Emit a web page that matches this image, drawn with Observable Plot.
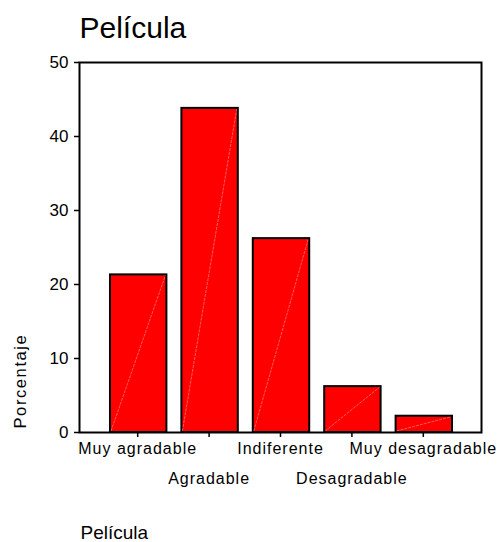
<!DOCTYPE html>
<html><head><meta charset="utf-8">
<script src="https://cdn.jsdelivr.net/npm/d3@7"></script>
<script src="https://cdn.jsdelivr.net/npm/@observablehq/plot@0.6"></script>
<style>
body{margin:0;background:#fff;}
</style>
</head><body><div id="chart"></div>
<script>
const categories = ["Muy agradable", "Agradable", "Indiferente", "Desagradable", "Muy desagradable"];
const percentages = [21.3, 43.8, 26.2, 6.2, 2.2];
const yTicks = [0, 10, 20, 30, 40, 50];
const titleText = "Película";
const yLabelText = "Porcentaje";
const xLabelText = "Película";

const data = categories.map((c, i) => ({categoria: c, porcentaje: percentages[i]}));

const diagonals = (index, scales) => {
  try {
    const x = scales.x, y = scales.y;
    const bw = typeof x.bandwidth === "function" ? x.bandwidth() : (scales.scales && scales.scales.x ? scales.scales.x.bandwidth : 0);
    const g = d3.create("svg:g").attr("aria-label", "diagonals");
    data.forEach(d => {
      g.append("line")
        .attr("x1", x(d.categoria) + 2)
        .attr("y1", y(0) - 1)
        .attr("x2", x(d.categoria) + bw)
        .attr("y2", y(d.porcentaje) + 1)
        .attr("stroke", "#ffffff")
        .attr("stroke-opacity", 0.45)
        .attr("stroke-width", 0.8)
        .attr("stroke-dasharray", "3,1");
    });
    return g.node();
  } catch (e) { return null; }
};

const chart = Plot.plot({
  width: 500,
  height: 542,
  marginTop: 62,
  marginBottom: 110,
  marginLeft: 79,
  marginRight: 19,
  style: {fontFamily: "Arial, 'Liberation Sans', sans-serif", fontSize: "16px", background: "white", color: "black"},
  x: {domain: categories, paddingInner: 0.21, paddingOuter: 0.42, round: false},
  y: {domain: [0, 50]},
  marks: [
    Plot.barY(data, {x: "categoria", y: "porcentaje", fill: "#ff0000", stroke: "#000000", strokeWidth: 2, dx: 1}),
    diagonals,
    Plot.frame({stroke: "#000000", strokeWidth: 2}),
    Plot.axisY(yTicks, {tickSize: 5, tickPadding: 6, fontSize: 17, label: null, stroke: "#000000", strokeWidth: 1.5}),
    Plot.axisX(categories.filter((d, i) => i % 2 === 0), {tickSize: 5, tickPadding: 5, fontSize: 16, label: null, strokeWidth: 1.5}),
    Plot.axisX(categories.filter((d, i) => i % 2 === 1), {tickSize: 5, tickPadding: 35, fontSize: 16, label: null, strokeWidth: 1.5}),
    Plot.text([titleText], {frameAnchor: "top-left", dx: 0, dy: -25, fontSize: 30, textAnchor: "start", lineAnchor: "bottom", fill: "black"}),
    Plot.text([yLabelText], {frameAnchor: "bottom-left", rotate: -90, dx: -54, dy: -4, fontSize: 16.5, textAnchor: "start", lineAnchor: "bottom", fill: "black"}),
    Plot.text([xLabelText], {frameAnchor: "bottom-left", dx: 1, dy: 106, fontSize: 19, textAnchor: "start", lineAnchor: "bottom", fill: "black"})
  ]
});
d3.select(chart).selectAll("text").each(function() {
  const t = this.textContent;
  if (t === yLabelText) this.style.letterSpacing = "1.6px";
  else if (categories.includes(t)) this.style.letterSpacing = "1px";
});
document.getElementById("chart").appendChild(chart);
</script>
</body></html>
